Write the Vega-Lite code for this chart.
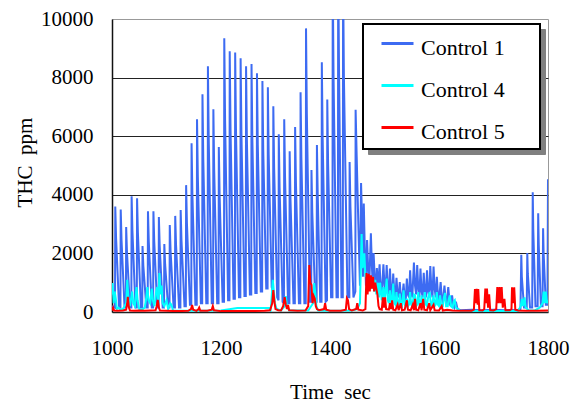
{
  "$schema": "https://vega.github.io/schema/vega-lite/v6.json",
  "width": 436,
  "height": 293,
  "autosize": {"type": "none"},
  "padding": {"left": 112, "top": 19, "right": 31, "bottom": 93},
  "background": "white",
  "config": {"view": {"stroke": "#999999", "strokeWidth": 1}, "font": "Liberation Serif, Times New Roman, Times, DejaVu Serif, serif"},
  "data": {"values": [
    {"series":"Control 1","time":1000,"thc":200},{"series":"Control 1","time":1005.5,"thc":150},
    {"series":"Control 1","time":1006,"thc":3600},{"series":"Control 1","time":1007.5,"thc":2520},{"series":"Control 1","time":1013,"thc":150},{"series":"Control 1","time":1015.5,"thc":150},
    {"series":"Control 1","time":1016,"thc":3500},{"series":"Control 1","time":1017.5,"thc":2450},{"series":"Control 1","time":1023,"thc":150},{"series":"Control 1","time":1025.5,"thc":150},
    {"series":"Control 1","time":1026,"thc":2900},{"series":"Control 1","time":1027.5,"thc":2030},{"series":"Control 1","time":1033,"thc":150},{"series":"Control 1","time":1035.5,"thc":150},
    {"series":"Control 1","time":1036,"thc":3950},{"series":"Control 1","time":1037.5,"thc":2765},{"series":"Control 1","time":1043,"thc":150},{"series":"Control 1","time":1045.5,"thc":150},
    {"series":"Control 1","time":1046,"thc":3880},{"series":"Control 1","time":1047.5,"thc":2716},{"series":"Control 1","time":1053,"thc":150},{"series":"Control 1","time":1055.5,"thc":150},
    {"series":"Control 1","time":1056,"thc":2250},{"series":"Control 1","time":1057.5,"thc":1575},{"series":"Control 1","time":1063,"thc":150},{"series":"Control 1","time":1065.5,"thc":150},
    {"series":"Control 1","time":1066,"thc":3440},{"series":"Control 1","time":1067.5,"thc":2408},{"series":"Control 1","time":1073,"thc":150},{"series":"Control 1","time":1075.5,"thc":150},
    {"series":"Control 1","time":1076,"thc":3440},{"series":"Control 1","time":1077.5,"thc":2408},{"series":"Control 1","time":1083,"thc":150},{"series":"Control 1","time":1085.5,"thc":150},
    {"series":"Control 1","time":1086,"thc":3240},{"series":"Control 1","time":1087.5,"thc":2268},{"series":"Control 1","time":1093,"thc":150},{"series":"Control 1","time":1095.5,"thc":150},
    {"series":"Control 1","time":1096,"thc":2320},{"series":"Control 1","time":1097.5,"thc":1624},{"series":"Control 1","time":1103,"thc":150},{"series":"Control 1","time":1105.5,"thc":150},
    {"series":"Control 1","time":1106,"thc":2970},{"series":"Control 1","time":1107.5,"thc":2079},{"series":"Control 1","time":1113,"thc":150},{"series":"Control 1","time":1115.5,"thc":150},
    {"series":"Control 1","time":1116,"thc":3280},{"series":"Control 1","time":1117.5,"thc":2296},{"series":"Control 1","time":1123,"thc":150},{"series":"Control 1","time":1125.5,"thc":150},
    {"series":"Control 1","time":1126,"thc":3480},{"series":"Control 1","time":1127.5,"thc":2436},{"series":"Control 1","time":1133,"thc":200},{"series":"Control 1","time":1135.5,"thc":200},
    {"series":"Control 1","time":1136,"thc":4330},{"series":"Control 1","time":1137.5,"thc":3031},{"series":"Control 1","time":1143,"thc":250},{"series":"Control 1","time":1145.5,"thc":250},
    {"series":"Control 1","time":1146,"thc":5760},{"series":"Control 1","time":1147.5,"thc":4032},{"series":"Control 1","time":1153,"thc":250},{"series":"Control 1","time":1155.5,"thc":250},
    {"series":"Control 1","time":1156,"thc":6580},{"series":"Control 1","time":1157.5,"thc":4606},{"series":"Control 1","time":1163,"thc":300},{"series":"Control 1","time":1165.5,"thc":300},
    {"series":"Control 1","time":1166,"thc":7430},{"series":"Control 1","time":1167.5,"thc":5201},{"series":"Control 1","time":1173,"thc":300},{"series":"Control 1","time":1175.5,"thc":300},
    {"series":"Control 1","time":1176,"thc":8390},{"series":"Control 1","time":1177.5,"thc":5873},{"series":"Control 1","time":1183,"thc":300},{"series":"Control 1","time":1185.5,"thc":300},
    {"series":"Control 1","time":1186,"thc":6920},{"series":"Control 1","time":1187.5,"thc":4844},{"series":"Control 1","time":1193,"thc":300},{"series":"Control 1","time":1195.5,"thc":300},
    {"series":"Control 1","time":1196,"thc":5630},{"series":"Control 1","time":1197.5,"thc":3941},{"series":"Control 1","time":1203,"thc":350},{"series":"Control 1","time":1205.5,"thc":350},
    {"series":"Control 1","time":1206,"thc":9340},{"series":"Control 1","time":1207.5,"thc":6538},{"series":"Control 1","time":1213,"thc":400},{"series":"Control 1","time":1215.5,"thc":400},
    {"series":"Control 1","time":1216,"thc":8900},{"series":"Control 1","time":1217.5,"thc":6230},{"series":"Control 1","time":1223,"thc":450},{"series":"Control 1","time":1225.5,"thc":450},
    {"series":"Control 1","time":1226,"thc":8860},{"series":"Control 1","time":1227.5,"thc":6202},{"series":"Control 1","time":1233,"thc":500},{"series":"Control 1","time":1235.5,"thc":500},
    {"series":"Control 1","time":1236,"thc":8660},{"series":"Control 1","time":1237.5,"thc":6062},{"series":"Control 1","time":1243,"thc":550},{"series":"Control 1","time":1245.5,"thc":550},
    {"series":"Control 1","time":1246,"thc":8390},{"series":"Control 1","time":1247.5,"thc":5873},{"series":"Control 1","time":1253,"thc":600},{"series":"Control 1","time":1255.5,"thc":600},
    {"series":"Control 1","time":1256,"thc":8460},{"series":"Control 1","time":1257.5,"thc":5922},{"series":"Control 1","time":1263,"thc":650},{"series":"Control 1","time":1265.5,"thc":650},
    {"series":"Control 1","time":1266,"thc":8150},{"series":"Control 1","time":1267.5,"thc":5705},{"series":"Control 1","time":1273,"thc":700},{"series":"Control 1","time":1275.5,"thc":700},
    {"series":"Control 1","time":1276,"thc":7880},{"series":"Control 1","time":1277.5,"thc":5516},{"series":"Control 1","time":1283,"thc":800},{"series":"Control 1","time":1285.5,"thc":800},
    {"series":"Control 1","time":1286,"thc":7670},{"series":"Control 1","time":1287.5,"thc":5369},{"series":"Control 1","time":1293,"thc":850},{"series":"Control 1","time":1295.5,"thc":700},
    {"series":"Control 1","time":1296,"thc":7020},{"series":"Control 1","time":1297.5,"thc":4914},{"series":"Control 1","time":1303,"thc":500},{"series":"Control 1","time":1305.5,"thc":400},
    {"series":"Control 1","time":1306,"thc":6070},{"series":"Control 1","time":1307.5,"thc":4249},{"series":"Control 1","time":1313,"thc":350},{"series":"Control 1","time":1315.5,"thc":300},
    {"series":"Control 1","time":1316,"thc":6580},{"series":"Control 1","time":1317.5,"thc":4606},{"series":"Control 1","time":1323,"thc":300},{"series":"Control 1","time":1325.5,"thc":300},
    {"series":"Control 1","time":1326,"thc":5490},{"series":"Control 1","time":1327.5,"thc":3843},{"series":"Control 1","time":1333,"thc":300},{"series":"Control 1","time":1335.5,"thc":300},
    {"series":"Control 1","time":1336,"thc":6310},{"series":"Control 1","time":1337.5,"thc":4417},{"series":"Control 1","time":1343,"thc":300},{"series":"Control 1","time":1345.5,"thc":300},
    {"series":"Control 1","time":1346,"thc":7500},{"series":"Control 1","time":1347.5,"thc":5250},{"series":"Control 1","time":1353,"thc":300},{"series":"Control 1","time":1355.5,"thc":300},
    {"series":"Control 1","time":1356,"thc":9680},{"series":"Control 1","time":1357.5,"thc":6776},{"series":"Control 1","time":1363,"thc":350},{"series":"Control 1","time":1365.5,"thc":350},
    {"series":"Control 1","time":1366,"thc":4850},{"series":"Control 1","time":1367.5,"thc":3395},{"series":"Control 1","time":1373,"thc":350},{"series":"Control 1","time":1375.5,"thc":350},
    {"series":"Control 1","time":1376,"thc":5700},{"series":"Control 1","time":1377.5,"thc":3990},{"series":"Control 1","time":1382,"thc":350},{"series":"Control 1","time":1384.5,"thc":350},
    {"series":"Control 1","time":1385,"thc":8520},{"series":"Control 1","time":1386.5,"thc":5964},{"series":"Control 1","time":1392,"thc":350},{"series":"Control 1","time":1394.5,"thc":400},
    {"series":"Control 1","time":1395,"thc":7250},{"series":"Control 1","time":1396.5,"thc":5075},{"series":"Control 1","time":1402,"thc":500},{"series":"Control 1","time":1404.5,"thc":500},
    {"series":"Control 1","time":1405,"thc":11500},{"series":"Control 1","time":1406.5,"thc":8050},{"series":"Control 1","time":1412,"thc":500},{"series":"Control 1","time":1414.5,"thc":500},
    {"series":"Control 1","time":1415,"thc":12000},{"series":"Control 1","time":1416.5,"thc":8400},{"series":"Control 1","time":1421,"thc":500},{"series":"Control 1","time":1423.5,"thc":500},
    {"series":"Control 1","time":1424,"thc":11500},{"series":"Control 1","time":1425.5,"thc":8050},{"series":"Control 1","time":1432,"thc":500},{"series":"Control 1","time":1435.5,"thc":500},
    {"series":"Control 1","time":1436,"thc":5120},{"series":"Control 1","time":1437.5,"thc":3584},{"series":"Control 1","time":1443,"thc":500},{"series":"Control 1","time":1446.5,"thc":700},
    {"series":"Control 1","time":1447,"thc":6900},{"series":"Control 1","time":1449,"thc":5300},{"series":"Control 1","time":1452,"thc":3000},{"series":"Control 1","time":1455,"thc":900},
    {"series":"Control 1","time":1457,"thc":4400},{"series":"Control 1","time":1459,"thc":3000},{"series":"Control 1","time":1460.5,"thc":1200},{"series":"Control 1","time":1462,"thc":3700},
    {"series":"Control 1","time":1464,"thc":2000},{"series":"Control 1","time":1466,"thc":900},{"series":"Control 1","time":1468,"thc":2460},{"series":"Control 1","time":1470,"thc":1500},
    {"series":"Control 1","time":1472,"thc":900},{"series":"Control 1","time":1475,"thc":2690},{"series":"Control 1","time":1477,"thc":1500},{"series":"Control 1","time":1478.5,"thc":900},
    {"series":"Control 1","time":1480,"thc":2010},{"series":"Control 1","time":1482,"thc":1200},{"series":"Control 1","time":1484,"thc":700},{"series":"Control 1","time":1486,"thc":1500},
    {"series":"Control 1","time":1488,"thc":800},{"series":"Control 1","time":1491,"thc":1630},{"series":"Control 1","time":1493,"thc":800},{"series":"Control 1","time":1495,"thc":600},
    {"series":"Control 1","time":1498,"thc":1630},{"series":"Control 1","time":1500,"thc":900},{"series":"Control 1","time":1502,"thc":700},{"series":"Control 1","time":1504,"thc":1600},
    {"series":"Control 1","time":1506,"thc":800},{"series":"Control 1","time":1508,"thc":600},{"series":"Control 1","time":1510,"thc":1480},{"series":"Control 1","time":1512,"thc":700},
    {"series":"Control 1","time":1514,"thc":500},{"series":"Control 1","time":1516,"thc":1310},{"series":"Control 1","time":1518,"thc":700},{"series":"Control 1","time":1520,"thc":500},
    {"series":"Control 1","time":1522,"thc":1170},{"series":"Control 1","time":1524,"thc":600},{"series":"Control 1","time":1526,"thc":500},{"series":"Control 1","time":1528,"thc":1020},
    {"series":"Control 1","time":1530,"thc":500},{"series":"Control 1","time":1532,"thc":400},{"series":"Control 1","time":1535,"thc":970},{"series":"Control 1","time":1537,"thc":500},
    {"series":"Control 1","time":1539,"thc":400},{"series":"Control 1","time":1541,"thc":1140},{"series":"Control 1","time":1543,"thc":600},{"series":"Control 1","time":1545,"thc":500},
    {"series":"Control 1","time":1547,"thc":1420},{"series":"Control 1","time":1549,"thc":700},{"series":"Control 1","time":1551,"thc":500},{"series":"Control 1","time":1554,"thc":1690},
    {"series":"Control 1","time":1556,"thc":900},{"series":"Control 1","time":1558,"thc":600},{"series":"Control 1","time":1560,"thc":1600},{"series":"Control 1","time":1562,"thc":800},
    {"series":"Control 1","time":1564,"thc":500},{"series":"Control 1","time":1566,"thc":1480},{"series":"Control 1","time":1568,"thc":700},{"series":"Control 1","time":1570,"thc":500},
    {"series":"Control 1","time":1572,"thc":1340},{"series":"Control 1","time":1574,"thc":700},{"series":"Control 1","time":1576,"thc":500},{"series":"Control 1","time":1578,"thc":1420},
    {"series":"Control 1","time":1580,"thc":700},{"series":"Control 1","time":1582,"thc":500},{"series":"Control 1","time":1584,"thc":1570},{"series":"Control 1","time":1586,"thc":800},
    {"series":"Control 1","time":1588,"thc":500},{"series":"Control 1","time":1590,"thc":1550},{"series":"Control 1","time":1592,"thc":800},{"series":"Control 1","time":1594,"thc":500},
    {"series":"Control 1","time":1596,"thc":1200},{"series":"Control 1","time":1598,"thc":600},{"series":"Control 1","time":1600,"thc":400},{"series":"Control 1","time":1603,"thc":1020},
    {"series":"Control 1","time":1605,"thc":500},{"series":"Control 1","time":1607,"thc":300},{"series":"Control 1","time":1610,"thc":900},{"series":"Control 1","time":1612,"thc":450},
    {"series":"Control 1","time":1614,"thc":250},{"series":"Control 1","time":1617,"thc":850},{"series":"Control 1","time":1619,"thc":400},{"series":"Control 1","time":1621,"thc":200},
    {"series":"Control 1","time":1624,"thc":570},{"series":"Control 1","time":1626,"thc":250},{"series":"Control 1","time":1628,"thc":150},{"series":"Control 1","time":1631,"thc":350},
    {"series":"Control 1","time":1634,"thc":100},{"series":"Control 1","time":1640,"thc":60},{"series":"Control 1","time":1660,"thc":80},{"series":"Control 1","time":1680,"thc":60},
    {"series":"Control 1","time":1700,"thc":80},{"series":"Control 1","time":1720,"thc":60},{"series":"Control 1","time":1745,"thc":80},{"series":"Control 1","time":1749.5,"thc":100},
    {"series":"Control 1","time":1751,"thc":1950},{"series":"Control 1","time":1752,"thc":1200},{"series":"Control 1","time":1756,"thc":150},{"series":"Control 1","time":1761,"thc":150},
    {"series":"Control 1","time":1762,"thc":2010},{"series":"Control 1","time":1763,"thc":1300},{"series":"Control 1","time":1767,"thc":150},{"series":"Control 1","time":1771,"thc":150},
    {"series":"Control 1","time":1772,"thc":4090},{"series":"Control 1","time":1773,"thc":2800},{"series":"Control 1","time":1777,"thc":200},{"series":"Control 1","time":1781,"thc":200},
    {"series":"Control 1","time":1782,"thc":3370},{"series":"Control 1","time":1783,"thc":2300},{"series":"Control 1","time":1787,"thc":200},{"series":"Control 1","time":1790,"thc":200},
    {"series":"Control 1","time":1791,"thc":2860},{"series":"Control 1","time":1792,"thc":2000},{"series":"Control 1","time":1796,"thc":250},{"series":"Control 1","time":1799,"thc":250},
    {"series":"Control 1","time":1800,"thc":4530},

    {"series":"Control 4","time":1000,"thc":600},{"series":"Control 4","time":1001,"thc":990},{"series":"Control 4","time":1003,"thc":300},{"series":"Control 4","time":1005,"thc":700},
    {"series":"Control 4","time":1007,"thc":450},{"series":"Control 4","time":1009,"thc":100},{"series":"Control 4","time":1012,"thc":150},{"series":"Control 4","time":1015,"thc":80},
    {"series":"Control 4","time":1020,"thc":100},{"series":"Control 4","time":1026,"thc":300},{"series":"Control 4","time":1028,"thc":1100},{"series":"Control 4","time":1030,"thc":500},
    {"series":"Control 4","time":1033,"thc":200},{"series":"Control 4","time":1037,"thc":700},{"series":"Control 4","time":1039,"thc":300},{"series":"Control 4","time":1042,"thc":200},
    {"series":"Control 4","time":1045,"thc":850},{"series":"Control 4","time":1047,"thc":400},{"series":"Control 4","time":1050,"thc":100},{"series":"Control 4","time":1055,"thc":80},
    {"series":"Control 4","time":1060,"thc":150},{"series":"Control 4","time":1063,"thc":500},{"series":"Control 4","time":1065,"thc":850},{"series":"Control 4","time":1067,"thc":400},
    {"series":"Control 4","time":1070,"thc":300},{"series":"Control 4","time":1073,"thc":800},{"series":"Control 4","time":1075,"thc":400},{"series":"Control 4","time":1078,"thc":200},
    {"series":"Control 4","time":1081,"thc":700},{"series":"Control 4","time":1083,"thc":850},{"series":"Control 4","time":1085,"thc":300},{"series":"Control 4","time":1087,"thc":1330},
    {"series":"Control 4","time":1089,"thc":600},{"series":"Control 4","time":1091,"thc":900},{"series":"Control 4","time":1093,"thc":300},{"series":"Control 4","time":1096,"thc":200},
    {"series":"Control 4","time":1100,"thc":400},{"series":"Control 4","time":1103,"thc":100},{"series":"Control 4","time":1107,"thc":300},{"series":"Control 4","time":1109,"thc":250},
    {"series":"Control 4","time":1112,"thc":50},{"series":"Control 4","time":1150,"thc":40},{"series":"Control 4","time":1200,"thc":50},{"series":"Control 4","time":1230,"thc":140},
    {"series":"Control 4","time":1288,"thc":140},{"series":"Control 4","time":1291,"thc":50},{"series":"Control 4","time":1293,"thc":500},{"series":"Control 4","time":1295,"thc":1100},
    {"series":"Control 4","time":1297,"thc":700},{"series":"Control 4","time":1299,"thc":300},{"series":"Control 4","time":1302,"thc":100},{"series":"Control 4","time":1310,"thc":50},
    {"series":"Control 4","time":1317,"thc":200},{"series":"Control 4","time":1319,"thc":540},{"series":"Control 4","time":1321,"thc":200},{"series":"Control 4","time":1325,"thc":50},
    {"series":"Control 4","time":1360,"thc":50},{"series":"Control 4","time":1369,"thc":300},{"series":"Control 4","time":1371,"thc":990},{"series":"Control 4","time":1373,"thc":650},
    {"series":"Control 4","time":1375,"thc":200},{"series":"Control 4","time":1378,"thc":50},{"series":"Control 4","time":1400,"thc":40},{"series":"Control 4","time":1440,"thc":50},
    {"series":"Control 4","time":1450,"thc":100},{"series":"Control 4","time":1455,"thc":300},{"series":"Control 4","time":1458,"thc":2660},{"series":"Control 4","time":1460,"thc":1500},
    {"series":"Control 4","time":1463,"thc":2000},{"series":"Control 4","time":1465,"thc":1200},{"series":"Control 4","time":1467,"thc":1300},{"series":"Control 4","time":1470,"thc":900},
    {"series":"Control 4","time":1473,"thc":1200},{"series":"Control 4","time":1476,"thc":800},{"series":"Control 4","time":1479,"thc":1200},{"series":"Control 4","time":1481,"thc":700},
    {"series":"Control 4","time":1483,"thc":1100},{"series":"Control 4","time":1485,"thc":600},{"series":"Control 4","time":1488,"thc":1000},{"series":"Control 4","time":1490,"thc":500},
    {"series":"Control 4","time":1492,"thc":1000},{"series":"Control 4","time":1495,"thc":400},{"series":"Control 4","time":1498,"thc":850},{"series":"Control 4","time":1500,"thc":350},
    {"series":"Control 4","time":1502,"thc":700},{"series":"Control 4","time":1504,"thc":1140},{"series":"Control 4","time":1506,"thc":400},{"series":"Control 4","time":1508,"thc":300},
    {"series":"Control 4","time":1510,"thc":740},{"series":"Control 4","time":1512,"thc":300},{"series":"Control 4","time":1514,"thc":400},{"series":"Control 4","time":1516,"thc":970},
    {"series":"Control 4","time":1518,"thc":300},{"series":"Control 4","time":1520,"thc":250},{"series":"Control 4","time":1522,"thc":680},{"series":"Control 4","time":1524,"thc":250},
    {"series":"Control 4","time":1526,"thc":200},{"series":"Control 4","time":1528,"thc":630},{"series":"Control 4","time":1530,"thc":250},{"series":"Control 4","time":1532,"thc":200},
    {"series":"Control 4","time":1535,"thc":740},{"series":"Control 4","time":1537,"thc":250},{"series":"Control 4","time":1539,"thc":200},{"series":"Control 4","time":1541,"thc":460},
    {"series":"Control 4","time":1543,"thc":200},{"series":"Control 4","time":1545,"thc":250},{"series":"Control 4","time":1547,"thc":680},{"series":"Control 4","time":1549,"thc":250},
    {"series":"Control 4","time":1551,"thc":200},{"series":"Control 4","time":1554,"thc":600},{"series":"Control 4","time":1556,"thc":570},{"series":"Control 4","time":1558,"thc":200},
    {"series":"Control 4","time":1560,"thc":250},{"series":"Control 4","time":1562,"thc":680},{"series":"Control 4","time":1564,"thc":250},{"series":"Control 4","time":1566,"thc":200},
    {"series":"Control 4","time":1568,"thc":570},{"series":"Control 4","time":1570,"thc":200},{"series":"Control 4","time":1572,"thc":250},{"series":"Control 4","time":1574,"thc":680},
    {"series":"Control 4","time":1576,"thc":250},{"series":"Control 4","time":1578,"thc":200},{"series":"Control 4","time":1580,"thc":500},{"series":"Control 4","time":1583,"thc":680},
    {"series":"Control 4","time":1585,"thc":250},{"series":"Control 4","time":1587,"thc":200},{"series":"Control 4","time":1590,"thc":570},{"series":"Control 4","time":1592,"thc":200},
    {"series":"Control 4","time":1594,"thc":250},{"series":"Control 4","time":1596,"thc":680},{"series":"Control 4","time":1598,"thc":250},{"series":"Control 4","time":1600,"thc":200},
    {"series":"Control 4","time":1602,"thc":570},{"series":"Control 4","time":1604,"thc":200},{"series":"Control 4","time":1607,"thc":200},{"series":"Control 4","time":1609,"thc":500},
    {"series":"Control 4","time":1611,"thc":650},{"series":"Control 4","time":1613,"thc":200},{"series":"Control 4","time":1616,"thc":200},{"series":"Control 4","time":1618,"thc":450},
    {"series":"Control 4","time":1620,"thc":570},{"series":"Control 4","time":1622,"thc":200},{"series":"Control 4","time":1625,"thc":150},{"series":"Control 4","time":1627,"thc":350},
    {"series":"Control 4","time":1629,"thc":400},{"series":"Control 4","time":1631,"thc":150},{"series":"Control 4","time":1635,"thc":100},{"series":"Control 4","time":1640,"thc":30},
    {"series":"Control 4","time":1745,"thc":30},{"series":"Control 4","time":1750,"thc":200},{"series":"Control 4","time":1752,"thc":450},{"series":"Control 4","time":1754,"thc":200},
    {"series":"Control 4","time":1757,"thc":500},{"series":"Control 4","time":1759,"thc":150},{"series":"Control 4","time":1765,"thc":50},{"series":"Control 4","time":1775,"thc":50},
    {"series":"Control 4","time":1780,"thc":100},{"series":"Control 4","time":1785,"thc":150},{"series":"Control 4","time":1790,"thc":300},{"series":"Control 4","time":1792,"thc":700},
    {"series":"Control 4","time":1794,"thc":300},{"series":"Control 4","time":1796,"thc":700},{"series":"Control 4","time":1798,"thc":300},{"series":"Control 4","time":1800,"thc":400},

    {"series":"Control 5","time":1000,"thc":50},{"series":"Control 5","time":1002,"thc":150},{"series":"Control 5","time":1004,"thc":50},{"series":"Control 5","time":1010,"thc":40},
    {"series":"Control 5","time":1020,"thc":50},{"series":"Control 5","time":1026,"thc":80},{"series":"Control 5","time":1028,"thc":300},{"series":"Control 5","time":1029,"thc":520},
    {"series":"Control 5","time":1031,"thc":150},{"series":"Control 5","time":1033,"thc":50},{"series":"Control 5","time":1040,"thc":40},{"series":"Control 5","time":1050,"thc":50},
    {"series":"Control 5","time":1060,"thc":40},{"series":"Control 5","time":1070,"thc":50},{"series":"Control 5","time":1080,"thc":60},{"series":"Control 5","time":1082,"thc":200},
    {"series":"Control 5","time":1084,"thc":410},{"series":"Control 5","time":1086,"thc":150},{"series":"Control 5","time":1088,"thc":50},{"series":"Control 5","time":1100,"thc":40},
    {"series":"Control 5","time":1120,"thc":30},{"series":"Control 5","time":1140,"thc":40},{"series":"Control 5","time":1145,"thc":100},{"series":"Control 5","time":1147,"thc":240},
    {"series":"Control 5","time":1149,"thc":80},{"series":"Control 5","time":1155,"thc":40},{"series":"Control 5","time":1158,"thc":80},{"series":"Control 5","time":1160,"thc":150},
    {"series":"Control 5","time":1162,"thc":40},{"series":"Control 5","time":1175,"thc":40},{"series":"Control 5","time":1183,"thc":80},{"series":"Control 5","time":1185,"thc":200},
    {"series":"Control 5","time":1187,"thc":60},{"series":"Control 5","time":1200,"thc":30},{"series":"Control 5","time":1250,"thc":30},{"series":"Control 5","time":1280,"thc":40},
    {"series":"Control 5","time":1290,"thc":60},{"series":"Control 5","time":1294,"thc":300},{"series":"Control 5","time":1296,"thc":750},{"series":"Control 5","time":1298,"thc":350},
    {"series":"Control 5","time":1300,"thc":100},{"series":"Control 5","time":1305,"thc":60},{"series":"Control 5","time":1310,"thc":50},{"series":"Control 5","time":1314,"thc":200},
    {"series":"Control 5","time":1317,"thc":510},{"series":"Control 5","time":1319,"thc":250},{"series":"Control 5","time":1321,"thc":100},{"series":"Control 5","time":1323,"thc":240},
    {"series":"Control 5","time":1325,"thc":60},{"series":"Control 5","time":1340,"thc":40},{"series":"Control 5","time":1355,"thc":50},{"series":"Control 5","time":1360,"thc":200},
    {"series":"Control 5","time":1362,"thc":1600},{"series":"Control 5","time":1364,"thc":1000},{"series":"Control 5","time":1366,"thc":920},{"series":"Control 5","time":1368,"thc":300},
    {"series":"Control 5","time":1370,"thc":550},{"series":"Control 5","time":1372,"thc":460},{"series":"Control 5","time":1374,"thc":200},{"series":"Control 5","time":1376,"thc":100},
    {"series":"Control 5","time":1380,"thc":60},{"series":"Control 5","time":1389,"thc":100},{"series":"Control 5","time":1391,"thc":300},{"series":"Control 5","time":1393,"thc":80},
    {"series":"Control 5","time":1400,"thc":40},{"series":"Control 5","time":1420,"thc":40},{"series":"Control 5","time":1429,"thc":80},{"series":"Control 5","time":1431,"thc":470},
    {"series":"Control 5","time":1433,"thc":400},{"series":"Control 5","time":1435,"thc":100},{"series":"Control 5","time":1440,"thc":50},{"series":"Control 5","time":1448,"thc":100},
    {"series":"Control 5","time":1450,"thc":300},{"series":"Control 5","time":1452,"thc":80},{"series":"Control 5","time":1460,"thc":50},{"series":"Control 5","time":1465,"thc":100},
    {"series":"Control 5","time":1467,"thc":1330},{"series":"Control 5","time":1469,"thc":600},{"series":"Control 5","time":1471,"thc":1300},{"series":"Control 5","time":1473,"thc":700},
    {"series":"Control 5","time":1475,"thc":1250},{"series":"Control 5","time":1477,"thc":800},{"series":"Control 5","time":1479,"thc":1200},{"series":"Control 5","time":1481,"thc":700},
    {"series":"Control 5","time":1483,"thc":1000},{"series":"Control 5","time":1485,"thc":800},{"series":"Control 5","time":1487,"thc":600},{"series":"Control 5","time":1489,"thc":200},
    {"series":"Control 5","time":1491,"thc":100},{"series":"Control 5","time":1495,"thc":80},{"series":"Control 5","time":1497,"thc":500},{"series":"Control 5","time":1499,"thc":150},
    {"series":"Control 5","time":1501,"thc":500},{"series":"Control 5","time":1503,"thc":100},{"series":"Control 5","time":1508,"thc":80},{"series":"Control 5","time":1510,"thc":300},
    {"series":"Control 5","time":1512,"thc":100},{"series":"Control 5","time":1514,"thc":400},{"series":"Control 5","time":1516,"thc":80},{"series":"Control 5","time":1520,"thc":60},
    {"series":"Control 5","time":1524,"thc":250},{"series":"Control 5","time":1526,"thc":60},{"series":"Control 5","time":1530,"thc":300},{"series":"Control 5","time":1532,"thc":60},
    {"series":"Control 5","time":1537,"thc":80},{"series":"Control 5","time":1541,"thc":400},{"series":"Control 5","time":1543,"thc":80},{"series":"Control 5","time":1548,"thc":60},
    {"series":"Control 5","time":1552,"thc":250},{"series":"Control 5","time":1554,"thc":60},{"series":"Control 5","time":1556,"thc":450},{"series":"Control 5","time":1558,"thc":80},
    {"series":"Control 5","time":1562,"thc":60},{"series":"Control 5","time":1566,"thc":300},{"series":"Control 5","time":1568,"thc":60},{"series":"Control 5","time":1571,"thc":450},
    {"series":"Control 5","time":1573,"thc":80},{"series":"Control 5","time":1578,"thc":60},{"series":"Control 5","time":1582,"thc":300},{"series":"Control 5","time":1584,"thc":60},
    {"series":"Control 5","time":1590,"thc":250},{"series":"Control 5","time":1592,"thc":60},{"series":"Control 5","time":1600,"thc":50},{"series":"Control 5","time":1605,"thc":200},
    {"series":"Control 5","time":1607,"thc":50},{"series":"Control 5","time":1615,"thc":80},{"series":"Control 5","time":1625,"thc":50},{"series":"Control 5","time":1640,"thc":40},
    {"series":"Control 5","time":1660,"thc":40},{"series":"Control 5","time":1664,"thc":80},{"series":"Control 5","time":1666,"thc":780},{"series":"Control 5","time":1668,"thc":300},
    {"series":"Control 5","time":1669,"thc":790},{"series":"Control 5","time":1671,"thc":250},{"series":"Control 5","time":1672,"thc":780},{"series":"Control 5","time":1674,"thc":60},
    {"series":"Control 5","time":1680,"thc":50},{"series":"Control 5","time":1683,"thc":100},{"series":"Control 5","time":1685,"thc":800},{"series":"Control 5","time":1686,"thc":300},
    {"series":"Control 5","time":1688,"thc":800},{"series":"Control 5","time":1690,"thc":150},{"series":"Control 5","time":1692,"thc":600},{"series":"Control 5","time":1694,"thc":60},
    {"series":"Control 5","time":1700,"thc":50},{"series":"Control 5","time":1705,"thc":100},{"series":"Control 5","time":1707,"thc":850},{"series":"Control 5","time":1709,"thc":300},
    {"series":"Control 5","time":1711,"thc":850},{"series":"Control 5","time":1713,"thc":300},{"series":"Control 5","time":1715,"thc":850},{"series":"Control 5","time":1717,"thc":150},
    {"series":"Control 5","time":1720,"thc":450},{"series":"Control 5","time":1722,"thc":60},{"series":"Control 5","time":1730,"thc":60},{"series":"Control 5","time":1733,"thc":100},
    {"series":"Control 5","time":1734,"thc":840},{"series":"Control 5","time":1736,"thc":300},{"series":"Control 5","time":1738,"thc":840},{"series":"Control 5","time":1740,"thc":80},
    {"series":"Control 5","time":1745,"thc":50},{"series":"Control 5","time":1760,"thc":40},{"series":"Control 5","time":1780,"thc":40},{"series":"Control 5","time":1800,"thc":50}
  ]},
  "layer": [
    {
      "data": {"values": [{"key": "Control 1"}, {"key": "Control 4"}, {"key": "Control 5"}]},
      "mark": {"type": "point", "size": 0, "opacity": 1},
      "encoding": {
        "color": {
          "field": "key", "type": "nominal",
          "scale": {"range": ["#808080", "#808080", "#808080"]},
          "legend": {
            "orient": "none", "legendX": 256, "legendY": 10, "title": null,
            "fillColor": "#808080", "strokeColor": "#808080", "padding": 6, "rowPadding": 13,
            "symbolType": "M -1 -0.25 L 1 -0.25 M 8.15 -0.25 L 8.15 -0.25", "symbolSize": 1024, "symbolStrokeWidth": 3, "symbolOffset": 11,
            "symbolStrokeColor": "#808080", "symbolFillColor": "#808080",
            "labelOffset": 6, "labelFont": "Liberation Serif, Times New Roman, Times, DejaVu Serif, serif", "labelFontSize": 22, "labelColor": "#808080",
            "labelExpr": "''"
          }
        }
      }
    },
    {
      "mark": {"type": "line", "strokeWidth": 2, "clip": true},
      "encoding": {
        "x": {
          "field": "time", "type": "quantitative",
          "scale": {"domain": [1000, 1800], "nice": false, "zero": false},
          "axis": {
            "values": [1000, 1200, 1400, 1600, 1800], "format": "d", "grid": false, "ticks": false,
            "domainColor": "#222222", "domainWidth": 1.5,
            "labelFont": "Liberation Serif, Times New Roman, Times, DejaVu Serif, serif", "labelFontSize": 21, "labelColor": "black",
            "labelPadding": 36, "labelBaseline": "middle", "labelFlush": false, "labelOverlap": false,
            "title": "Time\u00a0\u00a0sec", "titleFont": "Liberation Serif, Times New Roman, Times, DejaVu Serif, serif", "titleFontSize": 21,
            "titleFontWeight": "normal", "titleColor": "black",
            "titleX": 218, "titleY": 80, "titleBaseline": "middle", "titleAlign": "center"
          }
        },
        "y": {
          "field": "thc", "type": "quantitative",
          "scale": {"domain": [0, 10000], "nice": false},
          "axis": {
            "values": [0, 2000, 4000, 6000, 8000, 10000], "format": "d", "grid": true, "ticks": false,
            "gridColor": "#222222", "gridWidth": 1,
            "gridOpacity": {"condition": {"test": "datum.value >= 10000 || datum.value <= 0", "value": 0}, "value": 1},
            "domainColor": "#111111", "domainWidth": 1.5,
            "labelFont": "Liberation Serif, Times New Roman, Times, DejaVu Serif, serif", "labelFontSize": 21, "labelColor": "black",
            "labelPadding": 19, "labelFlush": false, "labelOverlap": false,
            "title": "THC\u00a0\u00a0ppm", "titleFont": "Liberation Serif, Times New Roman, Times, DejaVu Serif, serif", "titleFontSize": 21,
            "titleFontWeight": "normal", "titleColor": "black",
            "titleX": -87, "titleY": 143, "titleBaseline": "middle", "titleAngle": -90, "titleAlign": "center"
          }
        },
        "stroke": {
          "field": "series", "type": "nominal",
          "scale": {"domain": ["Control 1", "Control 4", "Control 5"], "range": ["#3d6bf2", "#00ffff", "#ff0000"]},
          "legend": {
            "orient": "none", "legendX": 251, "legendY": 5, "title": null,
            "fillColor": "white", "strokeColor": "black", "padding": 6, "rowPadding": 13,
            "symbolType": "M -1 -0.25 L 1 -0.25 M 8.15 -0.25 L 8.15 -0.25", "symbolSize": 1024, "symbolStrokeWidth": 3, "symbolOffset": 11,
            "labelOffset": 6, "labelFont": "Liberation Serif, Times New Roman, Times, DejaVu Serif, serif", "labelFontSize": 22, "labelColor": "black",
            "encode": {"legend": {"update": {"strokeWidth": {"value": 2}}}}
          }
        }
      }
    }
  ]
}
